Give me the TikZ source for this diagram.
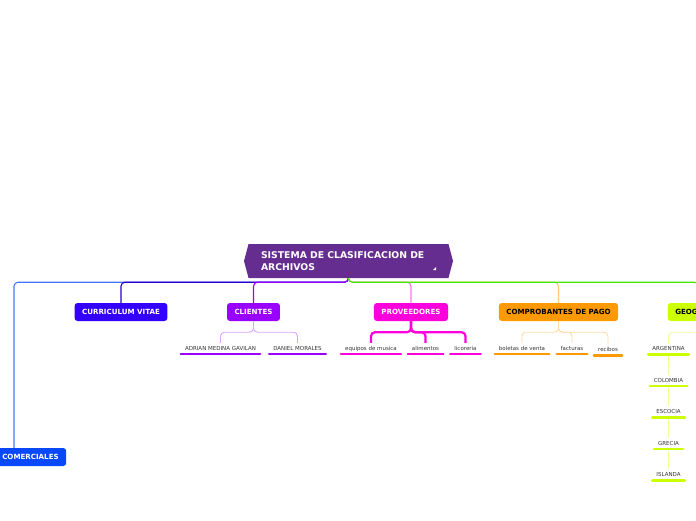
\documentclass[tikz,border=0pt]{standalone}
\usepackage{fontspec}
\setmainfont{DejaVu Sans}
\definecolor{mmroot}{RGB}{102,45,145}
\definecolor{mmcomer}{RGB}{8,72,255}
\definecolor{mmcv}{RGB}{51,0,255}
\definecolor{mmcli}{RGB}{153,0,255}
\definecolor{mmprov}{RGB}{255,0,221}
\definecolor{mmcomp}{RGB}{255,153,0}
\definecolor{mmgeo}{RGB}{204,255,0}
\definecolor{mmgreen}{RGB}{60,235,0}
\definecolor{mmtext}{RGB}{51,51,51}
\usetikzlibrary{shapes.symbols}

\begin{document}
\begin{tikzpicture}[x=1pt, y=-1pt,
    rootstyle/.style={signal, signal to=west and east, signal pointer angle=150,
                      fill=mmroot, text=white, font=\fontsize{9.3}{12}\selectfont\bfseries,
                      minimum width=209pt, minimum height=34pt, text width=175pt,
                      align=left, inner sep=0pt},
    branch/.style={rectangle, rounded corners=3pt, fill=#1, minimum height=18pt,
                   inner xsep=7.5pt, font=\fontsize{7.1}{8}\selectfont\bfseries, text=white},
    sub/.style={font=\fontsize{5.5}{6.5}\selectfont, text=mmtext, text height=4pt,
                text depth=1pt, inner xsep=4pt, inner ysep=3pt,
                append after command={(\tikzlastnode.south west)
                  edge[draw=#1, line width=2.5pt, line cap=round] (\tikzlastnode.south east)}},
    link/.style={rounded corners=4pt, line width=1.1pt},
    sublink/.style={rounded corners=4pt, line width=0.9pt}
  ]
    \useasboundingbox (0,0) rectangle (696,520);
    \clip (0,0) rectangle (696,520);

    % Central topic
    \node[rootstyle] (main) at (348.5,261) {SISTEMA DE CLASIFICACION DE\\ARCHIVOS};
    \fill[white] (433,270) -- (436,270) -- (436,267) -- cycle;

    % Main branches
    \node[branch=mmcomer] (com) at (30.5,457) {COMERCIALES};
    \node[branch=mmcv] (cv) at (121,312) {CURRICULUM VITAE};
    \node[branch=mmcli] (cli) at (253.5,312) {CLIENTES};
    \node[branch=mmprov] (prov) at (411,312) {PROVEEDORES};
    \node[branch=mmcomp, text=black] (comp) at (558.5,312) {COMPROBANTES DE PAGO};
    \node[branch=mmgeo, text=black] (geo) at (698.5,312) {GEOGRAFIA};

    % Clientes
    \node[sub=mmcli] (c1) at (220.5,348.5) {ADRIAN MEDINA GAVILAN};
    \node[sub=mmcli] (c2) at (297.5,348.5) {DANIEL MORALES};

    % Proveedores
    \node[sub=mmprov] (p1) at (371,348.5) {equipos de musica};
    \node[sub=mmprov] (p2) at (425.5,348.5) {alimentos};
    \node[sub=mmprov] (p3) at (465.5,348.5) {licoreria};

    % Comprobantes de pago
    \node[sub=mmcomp] (b1) at (522,348.5) {boletas de venta};
    \node[sub=mmcomp] (b2) at (572,348.5) {facturas};
    \node[sub=mmcomp] (b3) at (608,350) {recibos};

    % Geografia
    \node[sub=mmgeo] (g1) at (668.5,349) {ARGENTINA};
    \node[sub=mmgeo] (g2) at (668.5,380.5) {COLOMBIA};
    \node[sub=mmgeo] (g3) at (668.5,412) {ESCOCIA};
    \node[sub=mmgeo] (g4) at (668.5,443.5) {GRECIA};
    \node[sub=mmgeo] (g5) at (668.5,475) {ISLANDA};

    % Links from the central topic
    \draw[link, mmcomer!75] (main.south) -- ++(0,4) -| ([xshift=-16.5pt]com.north);
    \draw[link, mmcv!80!black] (main.south) -- ++(0,4) -| (cv.north);
    \draw[link, mmcli] (main.south) -- ++(0,4) -| (cli.north);
    \draw[link, mmprov!55] (main.south) -- ++(0,4) -| (prov.north);
    \draw[link, mmcomp!55] (main.south) -- ++(0,4) -| (comp.north);
    \draw[link, mmgreen] (main.south) -- ++(0,4) -| (geo.north);

    % Links to the subtopics
    \draw[sublink, mmcli!35] (cli.south) -- ++(0,11) -| (c1.north);
    \draw[sublink, mmcli!35] (cli.south) -- ++(0,11) -| (c2.north);
    \draw[sublink, mmprov, line width=2.2pt] (prov.south) -- ++(0,11) -| (p1.north);
    \draw[sublink, mmprov, line width=2.2pt] (prov.south) -- ++(0,11) -| (p2.north);
    \draw[sublink, mmprov, line width=2.2pt] (prov.south) -- ++(0,11) -| (p3.north);
    \draw[sublink, mmcomp!35] (comp.south) -- ++(0,11) -| (b1.north);
    \draw[sublink, mmcomp!35] (comp.south) -- ++(0,11) -| (b2.north);
    \draw[sublink, mmcomp!35] (comp.south) -- ++(0,11) -| (b3.north);
    \draw[sublink, mmgeo!40] (geo.south) -- ++(0,11) -| (g1.north);
    \draw[sublink, mmgeo!40, shorten <=1.5pt] (g1) -- (g2);
    \draw[sublink, mmgeo!40, shorten <=1.5pt] (g2) -- (g3);
    \draw[sublink, mmgeo!40, shorten <=1.5pt] (g3) -- (g4);
    \draw[sublink, mmgeo!40, shorten <=1.5pt] (g4) -- (g5);
\end{tikzpicture}
\end{document}
